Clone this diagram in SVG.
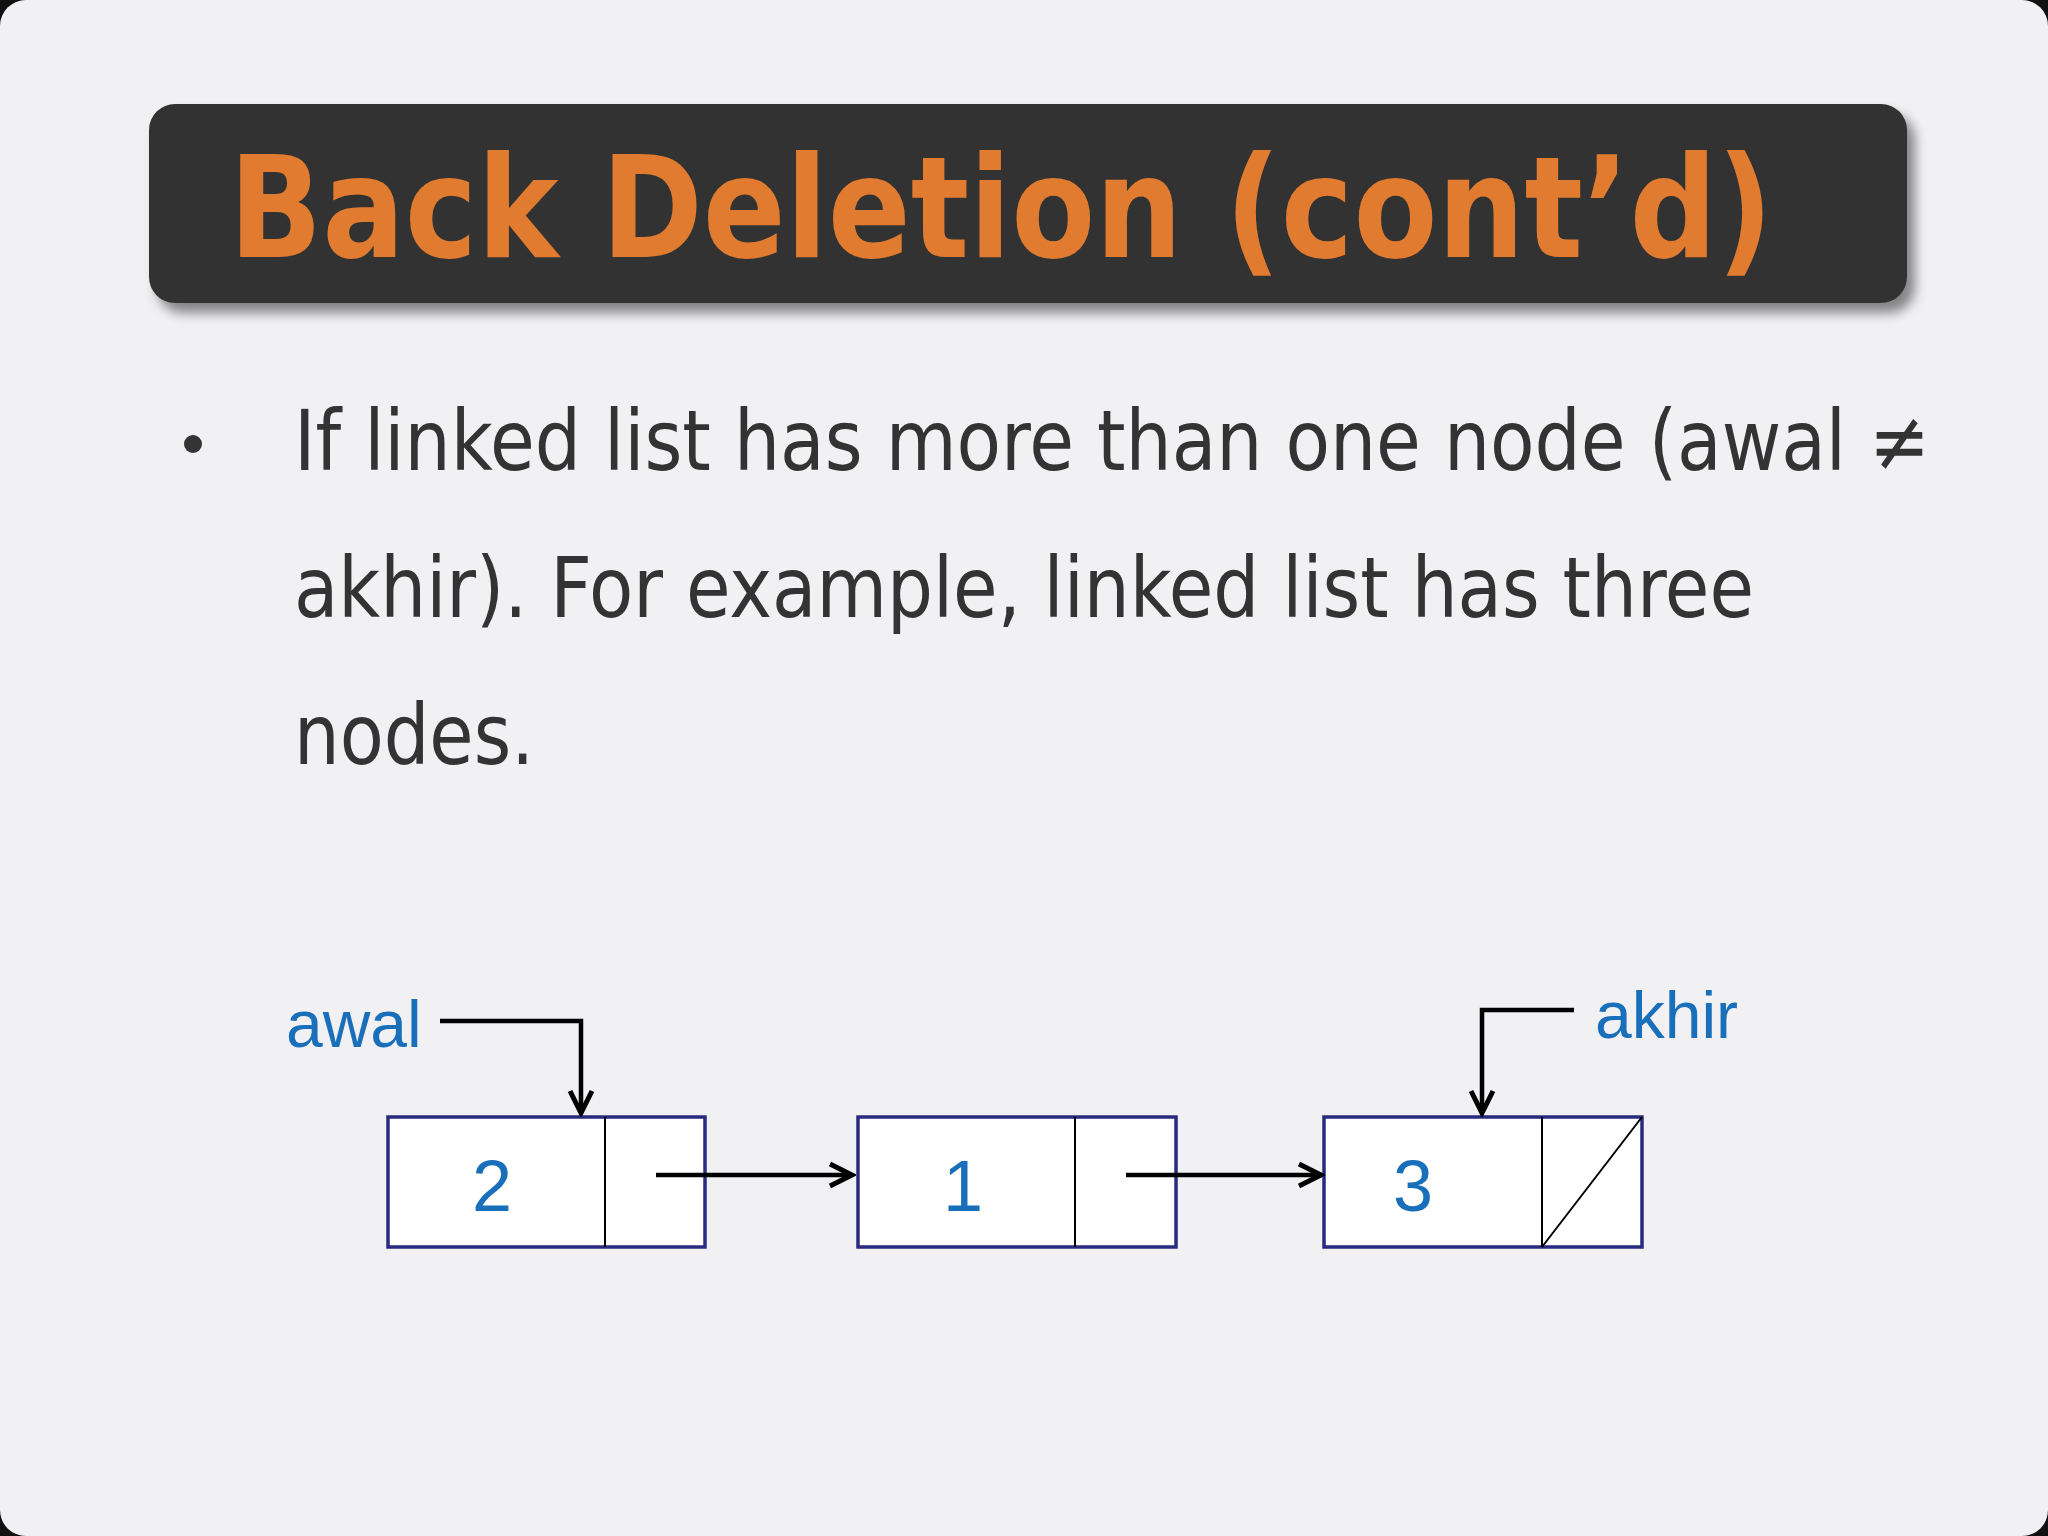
<svg xmlns="http://www.w3.org/2000/svg" width="2048" height="1536" viewBox="0 0 2048 1536">
<defs>
<marker id="ah" markerWidth="12" markerHeight="12" refX="10" refY="6" orient="auto" markerUnits="userSpaceOnUse" viewBox="0 0 12 12">
<polyline points="1,1 10,6 1,11" fill="none" stroke="#000" stroke-width="2.2"/>
</marker>
<marker id="ah2" markerWidth="30" markerHeight="30" refX="26" refY="15" orient="auto" markerUnits="userSpaceOnUse">
<polyline points="4,4 26,15 4,26" fill="none" stroke="#000" stroke-width="5"/>
</marker>
<filter id="sh" x="-5%" y="-20%" width="110%" height="150%"><feDropShadow dx="8" dy="10" stdDeviation="6" flood-color="#000" flood-opacity="0.45"/></filter>
</defs>
<style>
.box{fill:#fff;stroke:#2a2a80;stroke-width:3.5}
.num{font-family:"Liberation Sans",Arial,sans-serif;font-size:72px;fill:#1a6fba;text-anchor:middle}
.lbl{font-family:"Liberation Sans",Arial,sans-serif;font-size:66px;fill:#1a6fba}
.ln{stroke:#000;stroke-width:4.5;fill:none}
.body{font-family:"DejaVu Sans Condensed","DejaVu Sans",sans-serif;font-size:84px;fill:#333}
</style>
<rect width="2048" height="1536" fill="#111"/>
<rect x="0" y="0" width="2048" height="1536" rx="26" fill="#f1f0f3"/>
<g id="title">
<rect x="149" y="104" width="1758" height="199" rx="26" fill="#333" filter="url(#sh)"/>
<text x="229" y="257" font-family="DejaVu Sans" font-weight="bold" font-size="140" fill="#e07b30" textLength="1544" lengthAdjust="spacingAndGlyphs">Back Deletion (cont’d)</text>
</g>
<g id="bullet">
<circle cx="193" cy="444" r="9" fill="#333"/>
<text class="body" x="294" y="470" textLength="1636" lengthAdjust="spacingAndGlyphs">If linked list has more than one node (awal ≠</text>
<text class="body" x="294" y="617" textLength="1460" lengthAdjust="spacingAndGlyphs">akhir). For example, linked list has three</text>
<text class="body" x="294" y="764" textLength="240" lengthAdjust="spacingAndGlyphs">nodes.</text>
</g>
<g id="node1">
<rect class="box" x="388" y="1117" width="317" height="130"/>
<line x1="605" y1="1117" x2="605" y2="1247" stroke="#000" stroke-width="2"/>
<text class="num" x="492" y="1211">2</text>
</g>
<g id="node2">
<rect class="box" x="858" y="1117" width="318" height="130"/>
<line x1="1075" y1="1117" x2="1075" y2="1247" stroke="#000" stroke-width="2"/>
<text class="num" x="963" y="1211">1</text>
</g>
<g id="node3">
<rect class="box" x="1324" y="1117" width="318" height="130"/>
<line x1="1542" y1="1117" x2="1542" y2="1247" stroke="#000" stroke-width="2"/>
<line x1="1542" y1="1247" x2="1642" y2="1117" stroke="#000" stroke-width="2"/>
<text class="num" x="1413" y="1211">3</text>
</g>
<g id="awal"><text class="lbl" x="286" y="1047">awal</text></g>
<g id="akhir"><text class="lbl" x="1595" y="1038">akhir</text></g>
<g id="connectors">
<polyline class="ln" points="440,1021 581,1021 581,1113" marker-end="url(#ah2)"/>
<polyline class="ln" points="1574,1010 1482,1010 1482,1113" marker-end="url(#ah2)"/>
<line class="ln" x1="656" y1="1175" x2="852" y2="1175" marker-end="url(#ah2)"/>
<line class="ln" x1="1126" y1="1175" x2="1321" y2="1175" marker-end="url(#ah2)"/>
</g>
</svg>
